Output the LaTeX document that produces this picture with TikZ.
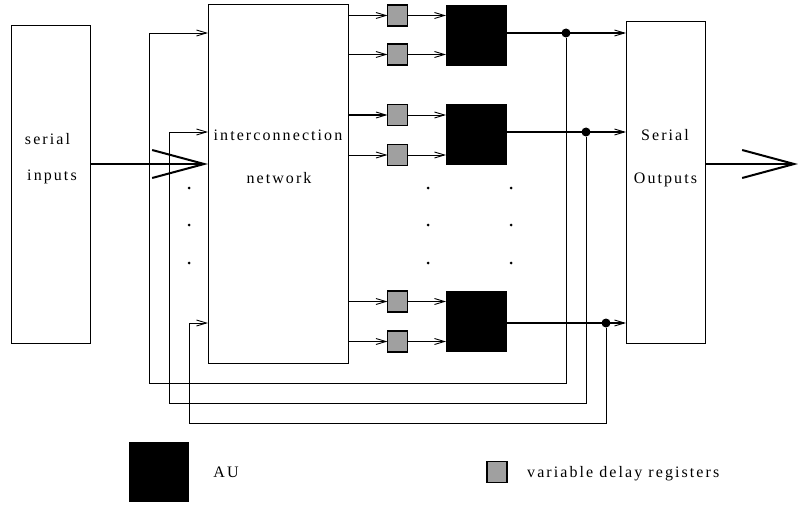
\documentclass[tikz,border=0pt]{standalone}
\usepackage{fontspec}
\setmainfont{Liberation Serif}
\usepackage{tikz}
\usetikzlibrary{arrows.meta}
\definecolor{ink}{HTML}{000000}
\definecolor{regGray}{HTML}{A0A0A0}
\tikzset{
  unitBox/.style={draw=ink, line width=0.9pt, inner sep=0pt, outer sep=0pt},
  regBox/.style={draw=ink, fill=regGray, line width=1.2pt, inner sep=0pt, outer sep=0pt, minimum width=20pt, minimum height=21pt},
  auBox/.style={fill=ink, inner sep=0pt, outer sep=0pt, minimum size=61pt},
  wireLine/.style={draw=ink, line width=0.9pt, -{Straight Barb[length=10pt,width=6pt]}},
  thickWire/.style={draw=ink, line width=1.6pt, -{Straight Barb[length=10pt,width=6pt,line width=0.9pt]}},
  outWire/.style={draw=ink, line width=1.3pt, -{Straight Barb[length=10pt,width=6pt,line width=0.9pt]}},
  busArrow/.style={draw=ink, line width=2pt, -{Straight Barb[length=52pt,width=28pt]}},
  joinDot/.style={circle, fill=ink, inner sep=0pt, minimum size=9pt},
  ellDot/.style={circle, fill=ink, inner sep=0pt, minimum size=3pt},
  boxLabel/.style={text=ink, font=\fontsize{16}{18}\selectfont\addfontfeatures{LetterSpace=13}, inner sep=0pt, anchor=base}
}

\begin{document}
\begin{tikzpicture}[x=1pt,y=-1pt]
  \useasboundingbox (0,0) rectangle (798,508);

  \node[unitBox, minimum width=79pt, minimum height=318pt] (inputs) at (50.5,184) {};
  \node[unitBox, minimum width=140pt, minimum height=359pt] (net) at (278,183.5) {};
  \node[unitBox, minimum width=79pt, minimum height=322pt] (outputs) at (665.5,182) {};

  \node[boxLabel] (inTop) at (47.5,145) {serial};
  \node[boxLabel] (inBot) at (52,181) {inputs};
  \node[boxLabel] (netTop) at (278,141) {interconnection};
  \node[boxLabel] (netBot) at (279,183) {network};
  \node[boxLabel] (outTop) at (665,141) {Serial};
  \node[boxLabel] (outBot) at (665.5,183) {Outputs};

  \node[regBox] (r1) at (397.5,15.5) {};
  \node[regBox] (r2) at (397.5,54.5) {};
  \node[regBox] (r3) at (397.5,115) {};
  \node[regBox] (r4) at (397.5,155) {};
  \node[regBox] (r5) at (397.5,301.5) {};
  \node[regBox] (r6) at (397.5,341.5) {};

  \node[auBox] (au1) at (476.5,35.5) {};
  \node[auBox] (au2) at (476.5,135) {};
  \node[auBox] (au3) at (476.5,321.5) {};

  \coordinate (busY) at (0,164);
  \coordinate (outEnd) at (798,164);
  \coordinate (fb1) at (149,383);
  \coordinate (fb2) at (169,403);
  \coordinate (fb3) at (189,423);

  \draw[busArrow] (inputs.east |- busY) -- (net.west |- busY);
  \draw[busArrow] (outputs.east |- busY) -- (outEnd);

  \draw[thickWire] (net.east |- r1) -- (r1);
  \draw[wireLine] (net.east |- r2) -- (r2);
  \draw[thickWire] (net.east |- r3) -- (r3);
  \draw[wireLine] (net.east |- r4) -- (r4);
  \draw[thickWire] (net.east |- r5) -- (r5);
  \draw[wireLine] (net.east |- r6) -- (r6);

  \draw[wireLine] (r1) -- (r1 -| au1.west);
  \draw[wireLine] (r2) -- (r2 -| au1.west);
  \draw[wireLine] (r3) -- (r3 -| au2.west);
  \draw[wireLine] (r4) -- (r4 -| au2.west);
  \draw[wireLine] (r5) -- (r5 -| au3.west);
  \draw[wireLine] (r6) -- (r6 -| au3.west);

  \node[joinDot] (d1) at (566,33) {};
  \node[joinDot] (d2) at (586,132) {};
  \node[joinDot] (d3) at (606,323) {};

  \draw[outWire] (au1.east |- d1) -- (outputs.west |- d1);
  \draw[outWire] (au2.east |- d2) -- (outputs.west |- d2);
  \draw[outWire] (au3.east |- d3) -- (outputs.west |- d3);

  \draw[wireLine] (d1) |- (fb1) |- (net.west |- d1);
  \draw[wireLine] (d2) |- (fb2) |- (net.west |- d2);
  \draw[wireLine] (d3) |- (fb3) |- (net.west |- d3);

  \node[ellDot] (e1) at (189,188) {};
  \node[ellDot] (e2) at (189,225) {};
  \node[ellDot] (e3) at (189,263) {};
  \node[ellDot] (e4) at (428,188) {};
  \node[ellDot] (e5) at (428,225) {};
  \node[ellDot] (e6) at (428,263) {};
  \node[ellDot] (e7) at (511,188) {};
  \node[ellDot] (e8) at (511,225) {};
  \node[ellDot] (e9) at (511,263) {};

  \node[auBox, minimum size=60pt] (keyAU) at (159,472) {};
  \node[boxLabel] (keyAUtext) at (226,477) {AU};
  \node[regBox] (keyReg) at (497,472) {};
  \node[boxLabel, anchor=base west] (keyRegText) at (527,477) {variable delay registers};
\end{tikzpicture}
\end{document}
